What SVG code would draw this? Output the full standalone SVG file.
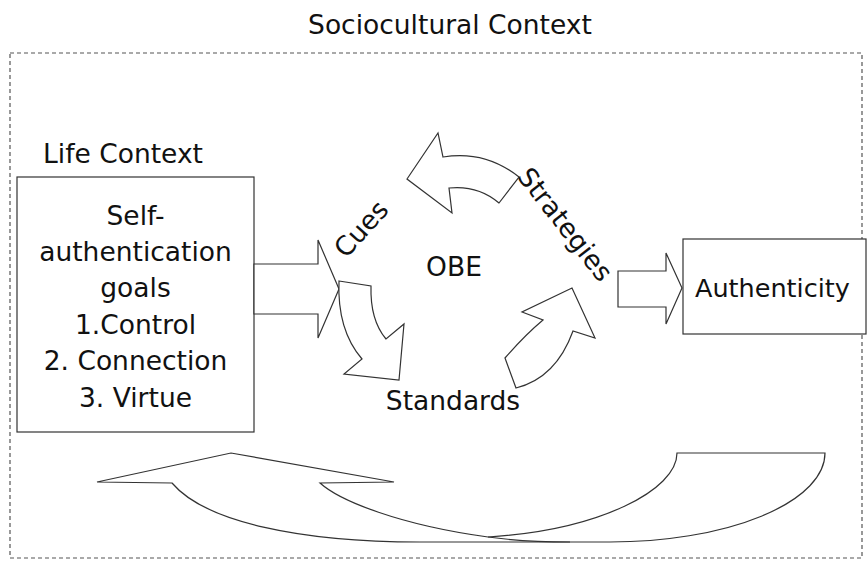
<svg xmlns="http://www.w3.org/2000/svg" width="867" height="561" viewBox="0 0 867 561">
<style>
  text { font-family: "DejaVu Sans", Verdana, sans-serif; font-size: 26.5px; fill: #111; }
  .c { text-anchor: middle; }
  .shape { fill: #fff; stroke: #333; stroke-width: 1.2; stroke-linejoin: miter; }
  .line { fill: none; stroke: #333; stroke-width: 1.2; }
  .dash { fill: none; stroke: #555; stroke-width: 1.2; stroke-dasharray: 4 3; }
</style>
<rect width="867" height="561" fill="#fff"/>

<g id="sociocultural">
  <rect class="dash" x="10" y="53" width="852" height="505"/>
  <text class="c" x="450" y="34">Sociocultural Context</text>
</g>

<g id="life-context">
  <text x="43" y="163">Life Context</text>
  <rect class="shape" x="17" y="177" width="237" height="255"/>
  <text class="c" x="135.5" y="225">Self-</text>
  <text class="c" x="135.5" y="261">authentication</text>
  <text class="c" x="135.5" y="297">goals</text>
  <text class="c" x="135.5" y="334">1.Control</text>
  <text class="c" x="135.5" y="370">2. Connection</text>
  <text class="c" x="135.5" y="407">3. Virtue</text>
</g>

<g id="authenticity">
  <rect class="shape" x="683" y="239" width="183" height="95"/>
  <text x="695" y="297" style="font-size:25.5px">Authenticity</text>
</g>

<g id="obe">
  <text class="c" x="454" y="276">OBE</text>
  <text class="c" x="368" y="235" transform="rotate(-48 368 235)">Cues</text>
  <text class="c" x="558" y="230" transform="rotate(52 558 230)">Strategies</text>
  <text class="c" x="453" y="410">Standards</text>
</g>

<g id="connectors">
  <!-- Life Context -> Cues -->
  <path class="shape" d="M254,264 L318,264 L318,240 L339,289 L318,338 L318,314 L254,314 Z"/>
  <!-- Cues -> Standards (curved down) -->
  <path class="shape" d="M339,281 L371,286 Q370,320 386,339 L404,324 L399,380 L344,374 L362,359 Q337,330 339,281 Z"/>
  <!-- Standards -> Strategies (curved up) -->
  <path class="shape" d="M505,358 L516,388 Q556,378 573,331 L595,338 L572,288 L522,312 L543,320 Q525,335 505,358 Z"/>
  <!-- Strategies -> Cues (curved left) -->
  <path class="shape" d="M407,179 L438,133 L443,157 Q485,150 519,177 L499,203 Q478,185 449,188 L452,213 Z"/>
  <!-- Strategies -> Authenticity -->
  <path class="shape" d="M618,271 L666,271 L666,253 L682,288 L666,324 L666,307 L618,307 Z"/>
  <!-- Feedback curved arrow at bottom -->
  <path class="shape" d="M172,483 L97,482 L231,453 L394,482 L320,483 C340,501 400,525 488,537 C600,530 677,490 677,453 L825,453 A215 89 0 0 1 610,542 L420,542 C300,542 205,522 172,483 Z"/>
  <path class="line" d="M488,537 C510,540 540,542 570,542"/>
</g>
</svg>
